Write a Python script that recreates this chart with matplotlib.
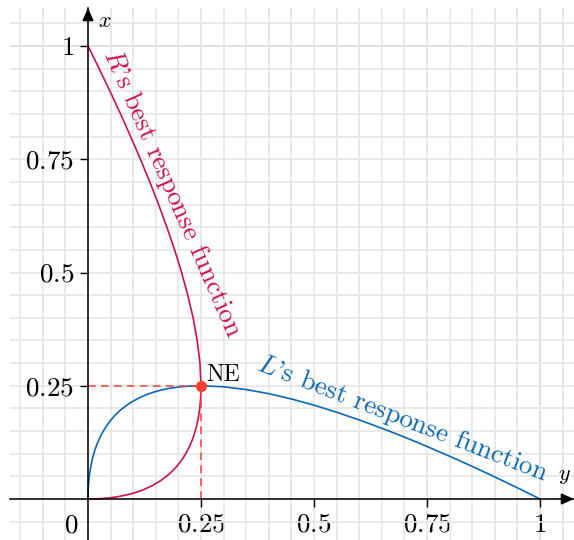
import matplotlib
matplotlib.use("Agg")
import matplotlib.pyplot as plt
import numpy as np

plt.rcParams["font.family"] = "cmr10"
plt.rcParams["mathtext.fontset"] = "cm"
plt.rcParams["axes.formatter.use_mathtext"] = True

# best response: own share -> response
share = [0, 0.0005, 0.001, 0.0025, 0.005, 0.01, 0.015, 0.02, 0.03, 0.04, 0.05,
         0.06, 0.07, 0.08, 0.09, 0.1, 0.115, 0.13, 0.145, 0.16, 0.18, 0.2, 0.22,
         0.25, 0.3, 0.35, 0.4, 0.45, 0.5, 0.55, 0.6, 0.65, 0.7, 0.75, 0.8,
         0.85, 0.9, 0.95, 1.0]
response = [0, 0.0219, 0.0306, 0.0475, 0.0657, 0.09, 0.1075, 0.1214, 0.1432,
            0.16, 0.1736, 0.1849, 0.1946, 0.2028, 0.21, 0.2162, 0.2241, 0.2306,
            0.2358, 0.24, 0.2443, 0.2472, 0.249, 0.25, 0.2477, 0.2416, 0.2325,
            0.2208, 0.2071, 0.1916, 0.1746, 0.1562, 0.1367, 0.116, 0.0944,
            0.072, 0.0487, 0.0247, 0.0]

ne_y, ne_x = 0.25, 0.25
tick_vals = [0.25, 0.5, 0.75, 1]
tick_labels = ["$0.25$", "$0.5$", "$0.75$", "$1$"]

red = "#d0104c"
blue = "#0a68b8"
ne_col = "#ff4030"

fig = plt.figure(figsize=(5.74, 5.40), dpi=100)
ax = fig.add_axes([10 / 574, 0, 564 / 574, 532 / 540])
xmin, xmax = -78 / 452, 486 / 452
ymin, ymax = -41 / 453, 491 / 453
ax.set_xlim(xmin, xmax)
ax.set_ylim(ymin, ymax)

# grid every 0.05, darker line at 1
ax.set_xticks(np.arange(-0.15, 1.07, 0.05), minor=True)
ax.set_yticks(np.arange(-0.05, 1.07, 0.05), minor=True)
ax.set_xticks(tick_vals, labels=tick_labels)
ax.set_yticks(tick_vals, labels=tick_labels)
ax.grid(which="both", color="#e6e6e6", lw=1.2, zorder=0)
ax.axhline(1, color="#b8b8b8", lw=1.2, zorder=0.5)
ax.axvline(1, color="#b8b8b8", lw=1.2, zorder=0.5)

for side in ["top", "right"]:
    ax.spines[side].set_visible(False)
ax.spines["left"].set_position(("data", 0))
ax.spines["bottom"].set_position(("data", 0))
for side in ["left", "bottom"]:
    ax.spines[side].set_linewidth(1.1)
    ax.spines[side].set_zorder(3)
ax.tick_params(which="minor", length=0)
ax.tick_params(which="major", direction="out", length=6, width=1,
               labelsize=19.5, pad=4)

# arrow heads
arr = dict(arrowstyle="-|>,head_length=0.45,head_width=0.2", color="black",
           lw=1.1, shrinkA=0, shrinkB=0, mutation_scale=17)
ax.annotate("", xy=(xmax, 0), xytext=(xmax - 0.03, 0), arrowprops=arr,
            annotation_clip=False, zorder=4)
ax.annotate("", xy=(0, ymax), xytext=(0, ymax - 0.03), arrowprops=arr,
            annotation_clip=False, zorder=4)
ax.text(-0.0376, -0.0596, "$0$", fontsize=19.5, ha="center", va="center")
ax.text(0.038, 1.055, "$x$", fontsize=16, ha="center", va="center")
ax.text(1.055, 0.05, "$y$", fontsize=16, ha="center", va="center")

# best response curves
ax.plot(share, response, color=blue, lw=1.2, zorder=2)
ax.plot(response, share, color=red, lw=1.2, zorder=2)

# Nash equilibrium
ax.plot([0, ne_y], [ne_x, ne_x], color=ne_col, lw=1.1, ls=(0, (5, 3.5)), zorder=2)
ax.plot([ne_y, ne_y], [0, ne_x], color=ne_col, lw=1.1, ls=(0, (5, 3.5)), zorder=2)
ax.plot(ne_y, ne_x, "o", color=ne_col, ms=7, zorder=5)
ax.text(0.261, 0.26, "NE", fontsize=17, ha="left", va="baseline")

ax.text(0.186, 0.675, "$R$'s best response function", color=red, fontsize=19.5,
        rotation=-66.4, ha="center", va="center", rotation_mode="anchor")
ax.text(0.695, 0.177, "$L$'s best response function", color=blue, fontsize=19.5,
        rotation=-21.1, ha="center", va="center", rotation_mode="anchor")

fig.savefig("out.png", dpi=100)
